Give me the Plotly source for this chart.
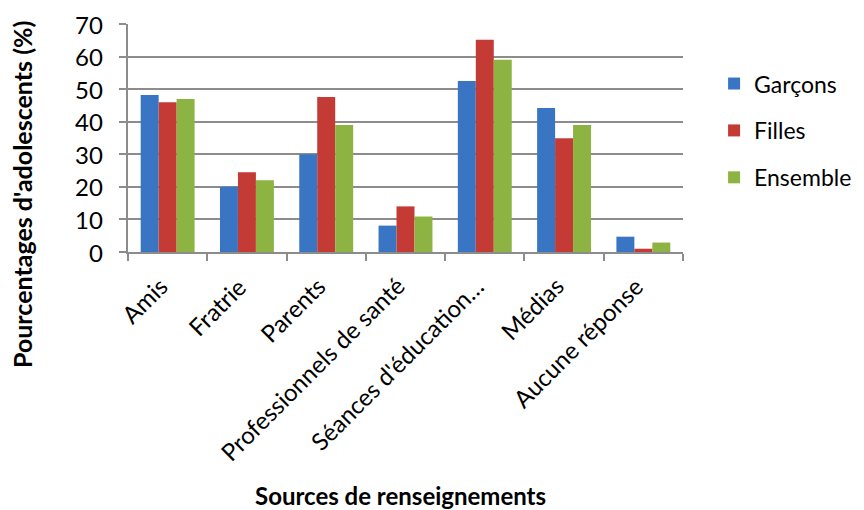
import plotly.graph_objects as go

categories = ["Amis", "Fratrie", "Parents", "Professionnels de santé",
              "Séances d'éducation…", "Médias", "Aucune réponse"]
garcons = [48.2, 20.0, 30.0, 8.1, 52.5, 44.2, 4.7]
filles = [46.0, 24.5, 47.6, 14.0, 65.2, 34.9, 1.0]
ensemble = [47.0, 22.0, 39.0, 10.9, 59.0, 39.0, 2.9]
series_names = ["Garçons", "Filles", "Ensemble"]
colors = ["#3a75c4", "#c43a35", "#8db443"]
y_ticks = [0, 10, 20, 30, 40, 50, 60, 70]

FONT = "Lato"
W, H = 856, 502
L, T, R, B = 120, 16, 181, 258
PW, PH = W - L - R, H - T - B

fig = go.Figure()
for name, vals, col in zip(series_names, [garcons, filles, ensemble], colors):
    fig.add_trace(go.Bar(x=categories, y=vals, name=name, marker_color=col,
                         marker_line_width=0, legendgroup=name))

grid = "#8c8c8c"
annotations = [
    dict(text="<b>Pourcentages d'adolescents (%)</b>", xref="paper", yref="paper",
         x=(14 - L) / PW, y=1 - (187 - T) / PH, textangle=-90, showarrow=False,
         xanchor="center", yanchor="middle", font=dict(size=25, family=FONT)),
    dict(text="<b>Sources de renseignements</b>", xref="paper", yref="paper",
         x=(392 - L) / PW, y=1 - (487 - T) / PH, showarrow=False,
         xanchor="center", yanchor="middle", font=dict(size=24, family=FONT)),
]
# category labels (rotated) placed through the x axis
for c in categories:
    annotations.append(dict(text=c, x=c, xref="x", y=0, yref="paper", yshift=-18,
                            xshift=6, textangle=-45, showarrow=False,
                            xanchor="right", yanchor="top", borderpad=0,
                            font=dict(size=24, family=FONT)))
# value labels of the y axis placed through the y axis
for v in y_ticks:
    annotations.append(dict(text=str(v), x=0, xref="paper", y=v, yref="y",
                            xshift=-24, showarrow=False, xanchor="right",
                            yanchor="middle", borderpad=0,
                            font=dict(size=24, family=FONT)))

fig.update_layout(
    width=W, height=H,
    margin=dict(l=L, r=R, t=T, b=B, autoexpand=False),
    paper_bgcolor="white", plot_bgcolor="white",
    barmode="group", bargap=0.32, bargroupgap=0,
    font=dict(family=FONT, size=24, color="#000000"),
    showlegend=True,
    legend=dict(x=1.056, y=0.833, xanchor="left", yanchor="top",
                font=dict(size=23), tracegroupgap=14, traceorder="grouped"),
    xaxis=dict(type="category", range=[-0.5, len(categories) - 0.5],
               tickson="boundaries", ticks="outside", ticklen=7,
               tickcolor=grid, tickwidth=1.5, showline=True, linecolor=grid, linewidth=1.5,
               showgrid=False, showticklabels=False, automargin=False),
    yaxis=dict(range=[0, 70], tickvals=y_ticks, ticks="outside", ticklen=7,
               tickcolor=grid, tickwidth=1.5, showgrid=True, gridcolor=grid, gridwidth=1.5,
               showline=True, linecolor=grid, linewidth=1.5, zeroline=False,
               showticklabels=False, automargin=False),
    annotations=annotations,
)
fig.write_html("out.html")
